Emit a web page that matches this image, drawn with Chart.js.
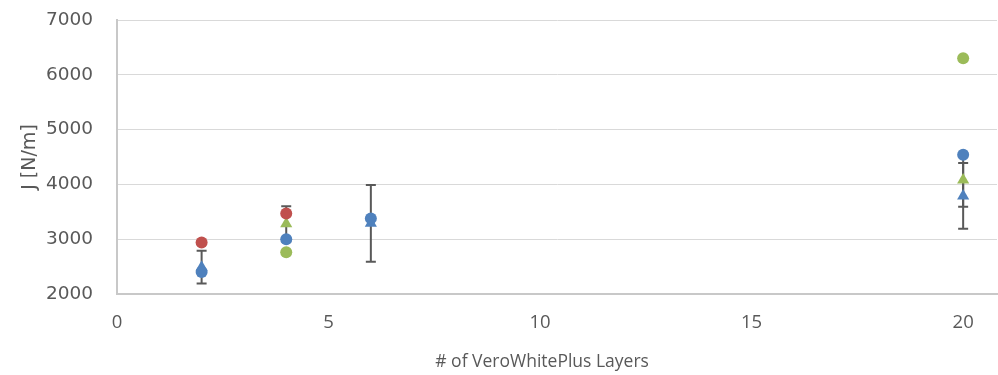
<!DOCTYPE html>
<html>
<head>
<meta charset="utf-8">
<script src="https://cdn.jsdelivr.net/npm/chart.js@4/dist/chart.umd.min.js"></script>
<style>
html,body{margin:0;padding:0;background:#fff;overflow:hidden;}
#wrap{width:998px;height:375px;position:relative;overflow:hidden;}
</style>
</head>
<body>
<div id="wrap"><canvas id="c" width="1004" height="375"></canvas></div>
<script>
// ---- data ----
const xTickValues = [0, 5, 10, 15, 20];
const yTickValues = [2000, 3000, 4000, 5000, 6000, 7000];

const blueCircleX = [2, 4, 6, 20];
const blueCircleY = [2400, 3000, 3380, 4540];

const redCircleX = [2, 4];
const redCircleY = [2940, 3470];

const greenCircleX = [4, 20];
const greenCircleY = [2760, 6300];

const blueTriX = [2, 6, 20];
const blueTriY = [2490, 3290, 3790];
const blueTriErr = [300, 700, 600];

const greenTriX = [4, 20];
const greenTriY = [3280, 4080];
const greenTriErr = [320, 490];

const xTitle = '# of VeroWhitePlus Layers';
const yTitle = 'J [N/m]';

const BLUE = '#4F81BD', RED = '#C0504D', GREEN = '#9BBB59';

function pts(xs, ys, es) {
  return xs.map((x, i) => ({x: x, y: ys[i], e: es ? es[i] : null}));
}

const errorBars = {
  id: 'errorBars',
  beforeDatasetsDraw(chart) {
    const ctx = chart.ctx;
    const xs = chart.scales.x, ys = chart.scales.y;
    ctx.save();
    ctx.strokeStyle = '#595959';
    ctx.lineWidth = 2;
    chart.data.datasets.forEach(ds => {
      ds.data.forEach(p => {
        if (p.e == null) return;
        const px = xs.getPixelForValue(p.x);
        const top = ys.getPixelForValue(p.y + p.e);
        const bot = ys.getPixelForValue(p.y - p.e);
        ctx.beginPath();
        ctx.moveTo(px, top); ctx.lineTo(px, bot);
        ctx.moveTo(px - 5, top); ctx.lineTo(px + 5, top);
        ctx.moveTo(px - 5, bot); ctx.lineTo(px + 5, bot);
        ctx.stroke();
      });
    });
    ctx.restore();
  }
};

// x axis title centred under the 0..20 axis range, as in the reference
const xAxisTitle = {
  id: 'xAxisTitle',
  afterDraw(chart) {
    const ctx = chart.ctx;
    const xs = chart.scales.x;
    const cx = (xs.getPixelForValue(xTickValues[0]) + xs.getPixelForValue(xTickValues[xTickValues.length - 1])) / 2;
    ctx.save();
    ctx.fillStyle = '#595959';
    ctx.font = "17.5px 'Open Sans', sans-serif";
    ctx.textAlign = 'center';
    ctx.textBaseline = 'middle';
    ctx.fillText(xTitle, cx + 2, 362);
    ctx.restore();
  }
};

const tickFont = {family: 'DejaVu Sans', size: 18.5};
const titleFont = {family: 'DejaVu Sans', size: 19};
const xFont = {family: "'Open Sans', sans-serif", size: 18.5};

new Chart(document.getElementById('c'), {
  type: 'scatter',
  data: {
    datasets: [
      {label: 'S1', data: pts(blueCircleX, blueCircleY), pointStyle: 'circle', pointRadius: 6, backgroundColor: BLUE, borderColor: BLUE, borderWidth: 0},
      {label: 'S2', data: pts(redCircleX, redCircleY), pointStyle: 'circle', pointRadius: 6, backgroundColor: RED, borderColor: RED, borderWidth: 0},
      {label: 'S3', data: pts(greenCircleX, greenCircleY), pointStyle: 'circle', pointRadius: 6, backgroundColor: GREEN, borderColor: GREEN, borderWidth: 0},
      {label: 'S4', data: pts(blueTriX, blueTriY, blueTriErr), pointStyle: 'triangle', pointRadius: 7, backgroundColor: BLUE, borderColor: BLUE, borderWidth: 0},
      {label: 'S5', data: pts(greenTriX, greenTriY, greenTriErr), pointStyle: 'triangle', pointRadius: 7, backgroundColor: GREEN, borderColor: GREEN, borderWidth: 0}
    ]
  },
  options: {
    responsive: false,
    animation: false,
    layout: {padding: {top: 20, right: 0, left: 0, bottom: 0}},
    plugins: {legend: {display: false}, tooltip: {enabled: false}},
    scales: {
      x: {
        type: 'linear',
        min: 0,
        max: 20.8,
        afterBuildTicks: s => { s.ticks = xTickValues.map(v => ({value: v})); },
        afterFit: s => { s.height = 81; s.paddingRight = 0; s.paddingLeft = 0; },
        grid: {display: false, drawTicks: false},
        border: {display: true, color: '#c8c8c8', width: 2},
        ticks: {color: '#595959', font: xFont, padding: 18, maxRotation: 0, autoSkip: false,
                callback: v => String(v)},
        title: {display: false}
      },
      y: {
        type: 'linear',
        min: 2000,
        max: 7000,
        afterBuildTicks: s => { s.ticks = yTickValues.map(v => ({value: v})); },
        afterFit: s => { s.width = 117; s.paddingTop = 0; s.paddingBottom = 0; },
        grid: {color: '#d9d9d9', lineWidth: 1, drawTicks: false},
        border: {display: true, color: '#c8c8c8', width: 2},
        ticks: {color: '#595959', font: tickFont, padding: 24, callback: v => String(v)},
        title: {display: true, text: yTitle, color: '#595959', font: titleFont, padding: {top: 19, bottom: 0}}
      }
    }
  },
  plugins: [errorBars, xAxisTitle]
});
</script>
</body>
</html>
